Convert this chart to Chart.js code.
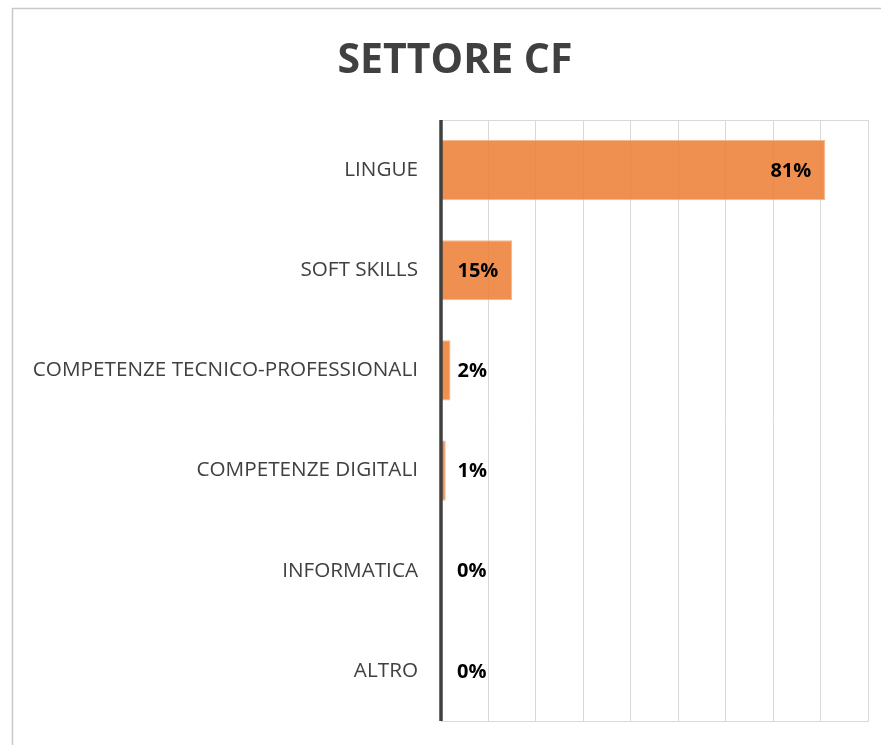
<!DOCTYPE html>
<html>
<head>
<meta charset="utf-8">
<script src="https://cdn.jsdelivr.net/npm/chart.js@4.4.1/dist/chart.umd.min.js"></script>
<style>
  html, body { margin: 0; padding: 0; background: #fff; overflow: hidden; }
  #wrap { width: 881px; height: 745px; }
</style>
</head>
<body>
<div id="wrap"><canvas id="chart" width="881" height="745"></canvas></div>
<script>
// Dati
const categories = ['LINGUE', 'SOFT SKILLS', 'COMPETENZE TECNICO-PROFESSIONALI', 'COMPETENZE DIGITALI', 'INFORMATICA', 'ALTRO'];
const percentages = [81, 15, 2, 1, 0, 0];
const valueLabels = ['81%', '15%', '2%', '1%', '0%', '0%'];
const chartTitle = 'SETTORE CF';

const FONT = '"Open Sans", "DejaVu Sans", sans-serif';
const TEXT_COLOR = '#404040';

// cornice esterna, titolo, bordo dell'area e etichette
const framePlugin = {
  id: 'frame',
  beforeDraw(chart) {
    const ctx = chart.ctx;
    ctx.save();
    ctx.strokeStyle = '#c8c8c8';
    ctx.lineWidth = 1.5;
    ctx.strokeRect(12.5, 8.5, 900, 760);

    // titolo centrato sull'intero riquadro (che esce a destra)
    ctx.font = 'bold 41px ' + FONT;
    ctx.fillStyle = TEXT_COLOR;
    ctx.textAlign = 'center';
    ctx.textBaseline = 'alphabetic';
    ctx.fillText(chartTitle, 455, 73);
    ctx.restore();
  },
  beforeDatasetsDraw(chart) {
    const { ctx, chartArea: a } = chart;
    ctx.save();
    ctx.strokeStyle = '#d9d9d9';
    ctx.lineWidth = 1;
    ctx.strokeRect(a.left + 0.5, a.top + 0.5, a.right - a.left, a.bottom - a.top);
    ctx.restore();
  },
  afterDatasetsDraw(chart) {
    const { ctx, chartArea: a } = chart;
    // asse verticale scuro
    ctx.save();
    ctx.strokeStyle = '#404040';
    ctx.lineWidth = 3.5;
    ctx.beginPath();
    ctx.moveTo(a.left, a.top);
    ctx.lineTo(a.left, a.bottom);
    ctx.stroke();

    // etichette dei valori
    const meta = chart.getDatasetMeta(0);
    ctx.font = 'bold 20px ' + FONT;
    ctx.fillStyle = '#000';
    ctx.textAlign = 'right';
    ctx.textBaseline = 'middle';
    meta.data.forEach((bar, i) => {
      const txt = valueLabels[i];
      const w = ctx.measureText(txt).width;
      const xRight = Math.max(bar.x - 14, bar.base + 16 + w);
      ctx.fillText(txt, xRight, bar.y + 1);
    });
    ctx.restore();
  }
};

new Chart(document.getElementById('chart'), {
  type: 'bar',
  data: {
    labels: categories,
    datasets: [{
      data: percentages,
      backgroundColor: 'rgba(237, 125, 49, 0.85)',
      borderColor: 'rgba(244, 177, 131, 0.9)',
      borderWidth: 1,
      barPercentage: 0.6,
      categoryPercentage: 1
    }]
  },
  options: {
    indexAxis: 'y',
    responsive: false,
    animation: false,
    layout: { padding: { left: 0, right: 13, top: 120, bottom: 24 } },
    plugins: {
      legend: { display: false },
      tooltip: { enabled: false },
      title: { display: false }
    },
    scales: {
      x: {
        min: 0,
        max: 90,
        afterFit(scale) { scale.height = 0; },
        ticks: { display: false, stepSize: 10 },
        grid: { color: '#d9d9d9', drawTicks: false },
        border: { display: false }
      },
      y: {
        afterFit(scale) { scale.width = 441; },
        ticks: {
          color: TEXT_COLOR,
          padding: 10,
          font: { family: FONT, size: 20.7 }
        },
        grid: { display: true, color: 'rgba(0,0,0,0)', drawOnChartArea: false, drawTicks: true, tickLength: 13 },
        border: { display: false }
      }
    }
  },
  plugins: [framePlugin]
});
</script>
</body>
</html>
